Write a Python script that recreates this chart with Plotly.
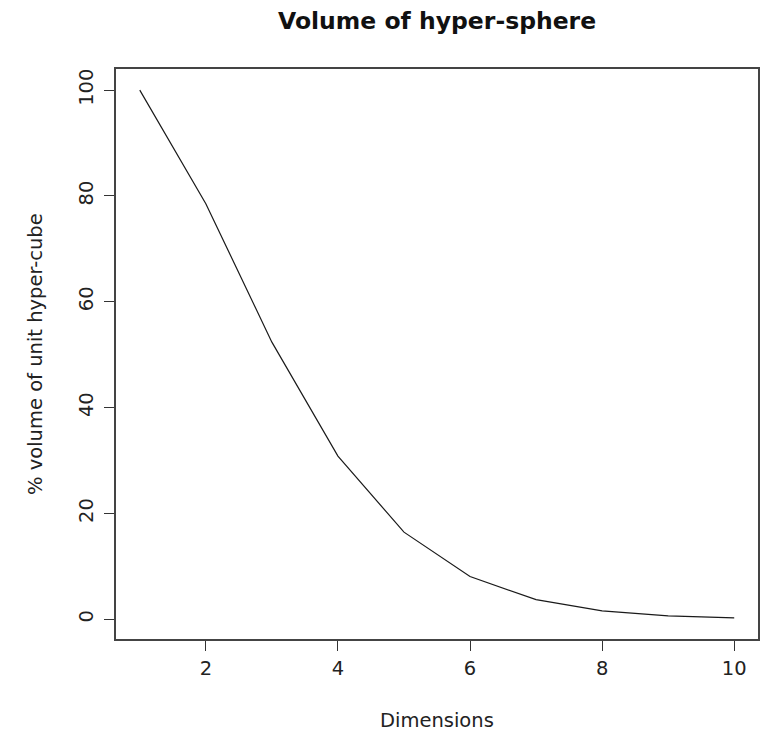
import plotly.graph_objects as go

dimensions = [1, 2, 3, 4, 5, 6, 7, 8, 9, 10]
volume_pct = [100.0, 78.54, 52.36, 30.84, 16.45, 8.07, 3.69, 1.59, 0.64, 0.25]
x_ticks = [2, 4, 6, 8, 10]
y_ticks = [0, 20, 40, 60, 80, 100]

W, H = 766, 732
ml, mr, mt, mb = 116, 8, 69, 93

fig = go.Figure()
fig.add_trace(go.Scatter(x=dimensions, y=volume_pct, mode="lines",
                         line=dict(color="#1a1a1a", width=1.2), showlegend=False))

font = dict(family="DejaVu Sans", size=19.5, color="#222222")
fig.update_layout(
    width=W, height=H,
    margin=dict(l=ml, r=mr, t=mt, b=mb, autoexpand=False),
    paper_bgcolor="white", plot_bgcolor="white",
    font=font,
    xaxis=dict(range=[0.64, 10.36], tickvals=x_ticks, ticks="outside", ticklen=10,
               tickcolor="#333333", tickwidth=1.2, showgrid=False, zeroline=False,
               showline=True, mirror=True, linecolor="#444444", linewidth=1.5,
               ticklabelstandoff=1, tickfont=font),
    yaxis=dict(range=[-3.74, 103.99], tickvals=y_ticks, ticks="outside", ticklen=10,
               tickcolor="#333333", tickwidth=1.2, showgrid=False, zeroline=False,
               showline=True, mirror=True, linecolor="#444444", linewidth=1.5,
               tickangle=-90, ticklabelstandoff=3, tickfont=font),
    annotations=[
        dict(text="<b>Volume of hyper-sphere</b>", x=0.5, y=1, xref="paper", yref="paper",
             xanchor="center", yanchor="middle", yshift=48, showarrow=False,
             font=dict(family="DejaVu Sans", size=23.5, color="#111111")),
        dict(text="Dimensions", x=0.5, y=0, xref="paper", yref="paper",
             xanchor="center", yanchor="middle", yshift=-81, showarrow=False, font=font),
        dict(text="% volume of unit hyper-cube", x=0, y=0.5, xref="paper", yref="paper",
             xanchor="center", yanchor="middle", xshift=-81, textangle=-90,
             showarrow=False, font=font),
    ],
)
fig.write_html("out.html")
